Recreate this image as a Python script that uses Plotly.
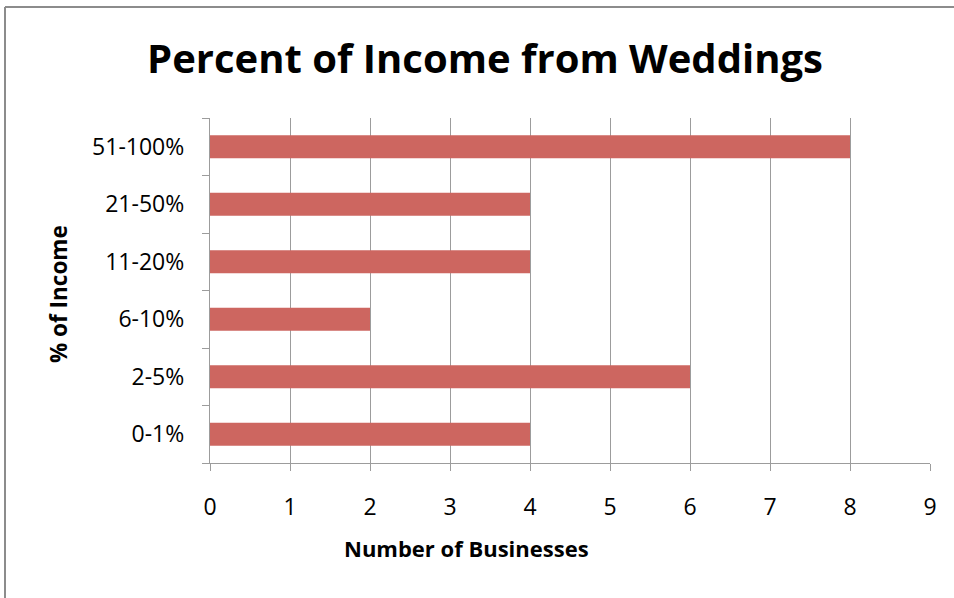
import plotly.graph_objects as go

categories = ["0-1%", "2-5%", "6-10%", "11-20%", "21-50%", "51-100%"]
businesses = [4, 6, 2, 4, 4, 8]
x_ticks = [0, 1, 2, 3, 4, 5, 6, 7, 8, 9]

W, H = 954, 598
L, R, T, B = 210, 24, 118, 135
PW, PH = W - L - R, H - T - B

def px_x(p):
    return (p - L) / PW

def px_y(p):
    return 1 - (p - T) / PH

FONT = "Open Sans"
GRID = "#9C9C9C"
FRAME = "#8C8C8C"

fig = go.Figure(go.Bar(
    x=businesses, y=categories, orientation="h",
    marker=dict(color="#CD6660", line=dict(width=0)),
))

fig.update_layout(
    width=W, height=H,
    margin=dict(l=L, r=R, t=T, b=B),
    paper_bgcolor="white", plot_bgcolor="white",
    bargap=0.6, showlegend=False,
    font=dict(family=FONT, color="black"),
    title=dict(text="<b>Percent of Income from Weddings</b>",
               font=dict(family=FONT, size=40, color="black"),
               x=485 / W, xanchor="center",
               y=1 - 59 / H, yanchor="middle"),
    xaxis=dict(range=[0, 9], tickvals=x_ticks, showgrid=True, gridcolor=GRID, gridwidth=1.3,
               showline=True, linecolor=GRID, linewidth=1.3, ticks="outside", ticklen=7,
               tickcolor=GRID, tickwidth=1.3, tickfont=dict(size=23, family=FONT),
               ticklabelstandoff=16, zeroline=False, fixedrange=True),
    yaxis=dict(categoryorder="array", categoryarray=categories, showgrid=False,
               showline=True, linecolor=GRID, linewidth=1.3, ticks="outside", ticklen=7,
               tickcolor=GRID, tickwidth=1.3, tickson="boundaries",
               tickfont=dict(size=23, family=FONT), ticklabelstandoff=20, fixedrange=True),
    annotations=[
        dict(text="<b>Number of Businesses</b>", xref="paper", yref="paper",
             x=px_x(466), y=px_y(548), xanchor="center", yanchor="middle",
             showarrow=False, font=dict(size=22, family=FONT)),
        dict(text="<b>% of Income</b>", xref="paper", yref="paper",
             x=px_x(58), y=px_y(294), xanchor="center", yanchor="middle",
             textangle=-90, showarrow=False, font=dict(size=22.5, family=FONT)),
    ],
    shapes=[
        dict(type="line", xref="paper", yref="paper",
             x0=px_x(5), x1=px_x(1100), y0=px_y(7), y1=px_y(7),
             line=dict(color=FRAME, width=2), layer="below"),
        dict(type="line", xref="paper", yref="paper",
             x0=px_x(5), x1=px_x(5), y0=px_y(7), y1=px_y(800),
             line=dict(color=FRAME, width=2), layer="below"),
    ],
)

fig.write_html("out.html", config={"displayModeBar": False},
               post_script="document.body.style.margin='0';document.body.style.overflow='hidden';")
